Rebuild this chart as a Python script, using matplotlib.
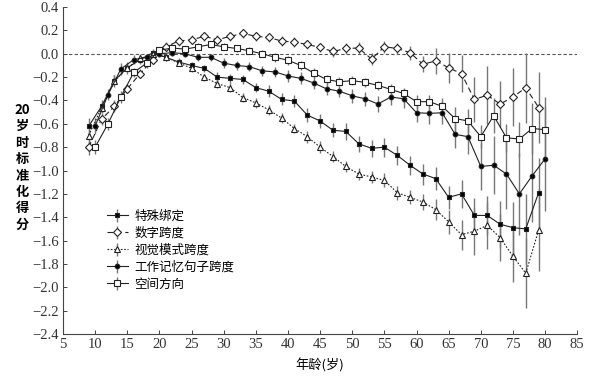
import matplotlib
matplotlib.use("Agg")
import matplotlib.pyplot as plt
import numpy as np

plt.rcParams['font.family'] = ['Noto Sans CJK SC', 'DejaVu Sans']

ages_odd = list(range(9, 80, 2))
ages_even = list(range(10, 81, 2))

# 特殊绑定 (filled square)
binding = [-0.62, -0.45, -0.23, -0.12, -0.05, 0.01, -0.03, -0.07, -0.10, -0.125,
           -0.20, -0.21, -0.22, -0.29, -0.32, -0.39, -0.405, -0.525, -0.575, -0.655,
           -0.665, -0.77, -0.81, -0.80, -0.87, -0.955, -1.03, -1.07, -1.23, -1.20,
           -1.385, -1.385, -1.46, -1.49, -1.50, -1.19]
binding_err = [0.07, 0.05, 0.05, 0.05, 0.04, 0.03, 0.03, 0.03, 0.03, 0.03,
               0.04, 0.04, 0.04, 0.04, 0.05, 0.05, 0.05, 0.06, 0.06, 0.06,
               0.07, 0.07, 0.07, 0.08, 0.08, 0.08, 0.09, 0.10, 0.10, 0.12,
               0.15, 0.17, 0.20, 0.22, 0.30, 0.30]

# 数字跨度 (open diamond)
digit = [-0.80, -0.56, -0.45, -0.30, -0.17, -0.05, 0.06, 0.11, 0.12, 0.15,
         0.12, 0.15, 0.175, 0.15, 0.14, 0.11, 0.10, 0.08, 0.055, 0.02,
         0.046, 0.05, -0.045, 0.06, 0.046, 0.01, -0.09, -0.06, -0.12, -0.17,
         -0.39, -0.355, -0.43, -0.37, -0.29, -0.46]
digit_err = [0.07, 0.05, 0.05, 0.04, 0.04, 0.04, 0.04, 0.04, 0.04, 0.04,
             0.04, 0.04, 0.04, 0.04, 0.04, 0.04, 0.04, 0.04, 0.04, 0.05,
             0.05, 0.05, 0.05, 0.05, 0.05, 0.06, 0.07, 0.11, 0.13, 0.16,
             0.19, 0.25, 0.20, 0.25, 0.30, 0.30]

# 视觉模式跨度 (open triangle)
visual = [-0.70, -0.46, -0.235, -0.12, -0.04, 0.0, -0.03, -0.077, -0.125, -0.20,
          -0.255, -0.29, -0.375, -0.42, -0.48, -0.55, -0.64, -0.71, -0.80, -0.88,
          -0.965, -1.03, -1.055, -1.085, -1.19, -1.23, -1.27, -1.335, -1.44, -1.55,
          -1.52, -1.47, -1.575, -1.735, -1.88, -1.51]
visual_err = [0.06, 0.05, 0.05, 0.04, 0.04, 0.03, 0.03, 0.03, 0.03, 0.03,
              0.04, 0.04, 0.04, 0.04, 0.04, 0.04, 0.04, 0.05, 0.05, 0.05,
              0.05, 0.05, 0.05, 0.06, 0.06, 0.06, 0.07, 0.09, 0.10, 0.13,
              0.20, 0.20, 0.20, 0.22, 0.30, 0.35]

# 工作记忆句子跨度 (filled circle)
wm = [-0.62, -0.35, -0.13, -0.05, -0.03, 0.0, 0.01, 0.0, -0.03, -0.03,
      -0.08, -0.10, -0.11, -0.146, -0.155, -0.19, -0.21, -0.25, -0.30, -0.32,
      -0.36, -0.385, -0.43, -0.37, -0.385, -0.505, -0.51, -0.505, -0.69, -0.71,
      -0.965, -0.955, -1.03, -1.20, -1.045, -0.90]
wm_err = [0.07, 0.05, 0.05, 0.04, 0.03, 0.03, 0.03, 0.03, 0.03, 0.03,
          0.04, 0.04, 0.04, 0.04, 0.04, 0.05, 0.05, 0.05, 0.05, 0.05,
          0.06, 0.06, 0.07, 0.07, 0.08, 0.08, 0.09, 0.10, 0.12, 0.15,
          0.20, 0.25, 0.30, 0.35, 0.40, 0.45]

# 空间方向 (open square)
spatial = [-0.80, -0.60, -0.37, -0.16, -0.08, 0.03, 0.05, 0.04, 0.06, 0.08,
           0.06, 0.046, 0.026, 0.0, -0.03, -0.055, -0.10, -0.165, -0.22, -0.24,
           -0.23, -0.245, -0.27, -0.305, -0.34, -0.41, -0.41, -0.45, -0.555, -0.575,
           -0.71, -0.53, -0.72, -0.73, -0.64, -0.65]
spatial_err = [0.06, 0.05, 0.05, 0.04, 0.04, 0.03, 0.03, 0.03, 0.03, 0.03,
               0.03, 0.03, 0.03, 0.03, 0.04, 0.04, 0.04, 0.04, 0.04, 0.04,
               0.04, 0.04, 0.04, 0.05, 0.05, 0.06, 0.06, 0.07, 0.10, 0.10,
               0.10, 0.15, 0.12, 0.15, 0.22, 0.28]

labels = ['特殊绑定', '数字跨度', '视觉模式跨度', '工作记忆句子跨度', '空间方向']
xticks = list(range(5, 86, 5))
yticks = [round(-2.4 + 0.2 * i, 1) for i in range(15)]

fig = plt.figure(figsize=(6.0, 3.76), dpi=100)
ax = fig.add_axes([0.105, 0.112, 0.857, 0.869])

ax.axhline(0, color='#555555', lw=0.8, ls=(0, (3, 2)), zorder=1)

series = [
    (ages_odd, binding, binding_err, 's', 'black', '-', 3.3),
    (ages_odd, digit, digit_err, 'D', 'white', (0, (5, 3)), 3.6),
    (ages_odd, visual, visual_err, '^', 'white', (0, (1.5, 1.5)), 4.3),
    (ages_even, wm, wm_err, 'o', 'black', '-', 3.3),
    (ages_even, spatial, spatial_err, 's', 'white', '-', 4.3),
]
for (x, y, e, m, fc, ls, ms), lab in zip(series, labels):
    ax.errorbar(x, y, yerr=e, fmt=m, ls=ls, color='#222222', lw=0.8,
                mfc=fc, mec='#222222', mew=0.8, ms=ms,
                ecolor='#777777', elinewidth=1.0, capsize=0, label=lab, zorder=3)

ax.set_xlim(5, 85)
ax.set_ylim(-2.4, 0.4)
serif = ['Liberation Serif', 'DejaVu Serif']
ax.set_xticks(xticks)
ax.set_xticklabels([str(v) for v in xticks], fontfamily=serif, fontsize=10.5)
ax.set_yticks(yticks)
ax.set_yticklabels([f'{v:.1f}'.replace('-', '\u2212') for v in yticks],
                   fontfamily=serif, fontsize=10.5)
for s in ['top', 'right']:
    ax.spines[s].set_visible(False)
for s in ['left', 'bottom']:
    ax.spines[s].set_color('#444444')
    ax.spines[s].set_linewidth(0.8)
ax.tick_params(direction='in', length=3, width=0.7, colors='#444444',
               labelcolor='#333333', pad=3)

ax.set_xlabel('年龄(岁)', fontsize=9.5, labelpad=5)
fig.text(0.037, 0.555, '\n'.join(['20', '岁', '时', '标', '准', '化', '得', '分']),
         fontsize=9.5, fontweight='bold', ha='center', va='center', linespacing=1.22)

leg = ax.legend(loc='upper left', bbox_to_anchor=(0.075, 0.395), frameon=False,
                fontsize=9, handlelength=1.7, handletextpad=0.5, labelspacing=0.32,
                borderaxespad=0)

fig.savefig('out.png', dpi=100)
